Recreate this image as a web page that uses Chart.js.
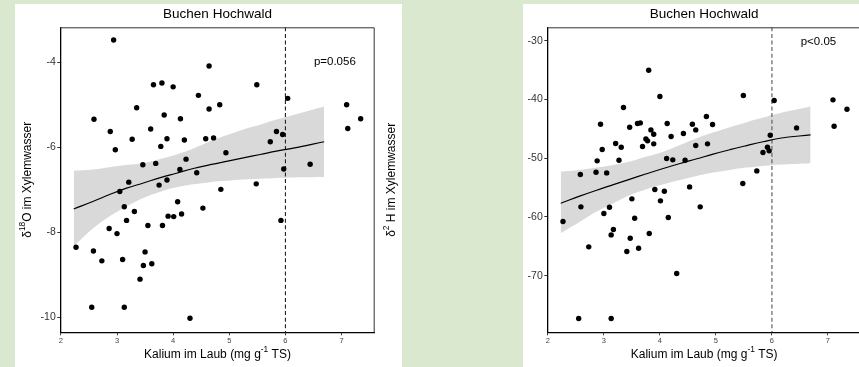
<!DOCTYPE html>
<html>
<head>
<meta charset="utf-8">
<script src="https://cdn.jsdelivr.net/npm/chart.js@4.4.1/dist/chart.umd.min.js"></script>
<style>
  html, body { margin: 0; padding: 0; width: 859px; height: 367px; overflow: hidden; background: #dae8cf; }
  .panel { position: absolute; background: #ffffff; }
  canvas { position: absolute; top: 0; }
</style>
</head>
<body>
<div class="panel" style="left:15px;top:4px;width:387px;height:363px;"></div>
<div class="panel" style="left:523px;top:4px;width:336px;height:363px;"></div>
<canvas id="c18" width="430" height="367" style="left:0;width:430px;height:367px;"></canvas>
<canvas id="c2" width="490" height="367" style="left:380px;width:490px;height:367px;"></canvas>
<script>
// Potassium in beech leaves (mg g-1 dry matter) and xylem water isotopes
const kalium = [2.27,2.55,2.58,2.59,2.73,2.86,2.88,2.94,2.97,3.00,3.05,3.10,3.13,3.13,3.17,3.21,3.27,3.31,3.35,3.41,3.46,3.47,3.50,3.55,3.60,3.62,3.65,3.69,3.75,3.78,3.80,3.81,3.84,3.89,3.89,3.91,4.00,4.01,4.08,4.12,4.13,4.15,4.20,4.23,4.30,4.42,4.45,4.53,4.58,4.64,4.64,4.72,4.83,4.85,4.94,5.48,5.49,5.73,5.84,5.92,5.95,5.97,6.04,6.44,7.09,7.11,7.34];
const d18O = [-8.35,-9.76,-8.44,-5.34,-8.67,-7.91,-5.63,-3.48,-6.06,-8.03,-7.04,-8.64,-7.40,-9.76,-7.72,-6.82,-5.81,-7.51,-5.07,-9.10,-6.41,-8.78,-8.46,-7.84,-5.57,-8.74,-4.53,-6.38,-6.89,-5.98,-4.49,-7.84,-5.24,-6.77,-5.80,-7.62,-4.58,-7.63,-7.28,-6.52,-5.33,-7.57,-5.83,-6.28,-10.02,-6.60,-4.78,-7.43,-5.80,-5.10,-4.09,-5.78,-5.00,-6.99,-6.13,-6.86,-4.53,-5.87,-5.63,-7.72,-5.70,-6.51,-4.85,-6.40,-5.00,-5.56,-5.33];
const d2H = [-60.78,-77.29,-52.78,-58.28,-65.09,-52.38,-50.45,-44.21,-48.52,-59.42,-52.50,-58.34,-63.05,-77.29,-62.14,-47.50,-50.34,-48.13,-41.38,-65.89,-44.72,-63.62,-56.92,-60.21,-44.10,-65.32,-43.99,-48.01,-46.71,-47.05,-35.02,-62.82,-45.18,-45.91,-47.56,-55.33,-39.50,-57.26,-55.62,-50.06,-44.10,-60.10,-46.31,-50.28,-69.63,-45.80,-50.34,-54.88,-44.21,-47.84,-45.18,-58.28,-42.91,-47.56,-44.27,-54.31,-39.33,-52.16,-49.04,-48.13,-48.75,-46.09,-40.18,-44.84,-40.07,-44.55,-41.66];

// Fitted trend with its confidence band
const fitK  = [2.23,2.58,2.87,3.17,3.47,3.76,4.06,4.36,4.66,4.95,5.25,5.55,5.84,6.14,6.69];
const fit18 = [-7.45,-7.27,-7.11,-6.96,-6.84,-6.72,-6.61,-6.50,-6.41,-6.33,-6.25,-6.17,-6.09,-6.02,-5.87];
const up18  = [-6.55,-6.52,-6.47,-6.42,-6.37,-6.28,-6.17,-6.03,-5.86,-5.72,-5.58,-5.47,-5.35,-5.24,-5.04];
const lo18  = [-8.33,-7.90,-7.62,-7.39,-7.19,-7.05,-6.94,-6.87,-6.82,-6.79,-6.76,-6.74,-6.72,-6.71,-6.70];
const fit2  = [-57.66,-56.42,-55.45,-54.50,-53.55,-52.65,-51.75,-50.90,-50.10,-49.30,-48.55,-47.85,-47.20,-46.60,-46.03];
const up2   = [-52.28,-51.99,-51.60,-51.14,-50.57,-49.73,-48.88,-47.74,-46.60,-45.64,-44.72,-43.87,-43.09,-42.34,-41.22];
const lo2   = [-62.77,-60.79,-59.09,-57.66,-56.25,-55.28,-54.43,-53.69,-53.01,-52.45,-51.99,-51.60,-51.31,-51.09,-50.85];

// Axis ticks
const kTicks = [2,3,4,5,6,7];
const o18Ticks = [-4,-6,-8,-10];
const h2Ticks = [-30,-40,-50,-60,-70];

const threshold = 6;
const titleText = 'Buchen Hochwald';
const xTitle = [{t:'Kalium im Laub (mg g'},{t:'-1',sup:true},{t:' TS)'}];

const FONT = '"Liberation Sans", Arial, sans-serif';

function drawRich(ctx, segs, x, y, size, rot) {
  ctx.save();
  ctx.translate(x, y);
  if (rot) ctx.rotate(rot);
  const base = size + 'px ' + FONT;
  const small = (size * 0.7).toFixed(1) + 'px ' + FONT;
  let total = 0;
  const w = segs.map(s => { ctx.font = s.sup ? small : base; const m = ctx.measureText(s.t).width; total += m; return m; });
  let cx = -total / 2;
  ctx.textBaseline = 'middle';
  ctx.textAlign = 'left';
  ctx.fillStyle = '#000';
  segs.forEach((s, i) => {
    ctx.font = s.sup ? small : base;
    ctx.fillText(s.t, cx, s.sup ? -size * 0.42 : 0);
    cx += w[i];
  });
  ctx.restore();
}

function buildChart(id, cfg) {
  const pts = kalium.map((k, i) => ({x: k, y: cfg.y[i]}));
  const line = arr => fitK.map((k, i) => ({x: k, y: arr[i]}));

  const decor = {
    id: 'decor',
    beforeDatasetDraw(chart, args) {
      if (args.index !== 1) return;
      const {ctx, chartArea: a, scales: {x}} = chart;
      const px = x.getPixelForValue(threshold);
      ctx.save();
      ctx.strokeStyle = cfg.dashColor;
      ctx.lineWidth = 1.1;
      ctx.setLineDash([4, 2.6]);
      ctx.beginPath();
      ctx.moveTo(px, a.top);
      ctx.lineTo(px, a.bottom);
      ctx.stroke();
      ctx.restore();
    },
    afterDraw(chart) {
      const {ctx, chartArea: a, scales: {x, y}} = chart;
      ctx.save();
      ctx.strokeStyle = '#333';
      ctx.lineWidth = 1;
      ctx.beginPath();
      ctx.moveTo(a.left, a.top + 0.5);
      ctx.lineTo(a.right - 0.5, a.top + 0.5);
      ctx.lineTo(a.right - 0.5, a.bottom);
      ctx.stroke();
      ctx.restore();
      const cx = (a.left + a.right) / 2;
      drawRich(ctx, [{t: titleText}], cx, 14, 13.5);
      drawRich(ctx, xTitle, cx, 355, 12);
      drawRich(ctx, cfg.yTitle, cfg.yTitleX, (a.top + a.bottom) / 2, 12, -Math.PI / 2);
      drawRich(ctx, [{t: cfg.pText}], x.getPixelForValue(cfg.pAt[0]), y.getPixelForValue(cfg.pAt[1]), 11.5);
    }
  };

  return new Chart(document.getElementById(id), {
    type: 'scatter',
    data: {
      datasets: [
        {data: pts, order: 0, pointRadius: 2.7, pointHoverRadius: 2.7, backgroundColor: '#000', borderWidth: 0, showLine: false},
        {data: line(cfg.fit), order: 1, showLine: true, borderColor: '#000', borderWidth: 1.2, pointRadius: 0, tension: 0.4, fill: false},
        {data: line(cfg.up), order: 2, showLine: true, borderWidth: 0, pointRadius: 0, tension: 0.4, fill: '+1', backgroundColor: '#d9d9d9'},
        {data: line(cfg.lo), order: 3, showLine: true, borderWidth: 0, pointRadius: 0, tension: 0.4, fill: false}
      ]
    },
    options: {
      responsive: false,
      animation: false,
      devicePixelRatio: 1,
      layout: {padding: cfg.padding},
      plugins: {legend: {display: false}, tooltip: {enabled: false}, title: {display: false}},
      scales: {
        x: {
          type: 'linear', min: 1.99, max: 7.59,
          afterBuildTicks: s => { s.ticks = kTicks.map(v => ({value: v})); },
          afterFit: s => { s.height = 34.7; },
          grid: {drawOnChartArea: false, drawTicks: true, tickLength: 3, color: '#333', lineWidth: 1},
          border: {display: true, color: '#000', width: 1.3},
          ticks: {font: {family: FONT, size: 7.5}, color: '#444', padding: 1.5, maxRotation: 0, callback: v => String(v)}
        },
        y: {
          type: 'linear', min: cfg.yMin, max: cfg.yMax,
          afterBuildTicks: s => { s.ticks = cfg.ticks.map(v => ({value: v})); },
          afterFit: s => { s.width = cfg.yAxisW; },
          grid: {drawOnChartArea: false, drawTicks: true, tickLength: 3, color: '#333', lineWidth: 1},
          border: {display: true, color: '#000', width: 1.3},
          ticks: {font: {family: FONT, size: 10.5}, color: '#333', padding: 1.5, callback: v => String(v)}
        }
      }
    },
    plugins: [decor]
  });
}

buildChart('c18', {
  y: d18O, fit: fit18, up: up18, lo: lo18,
  yMin: -10.35, yMax: -3.18, ticks: o18Ticks, yAxisW: 60.3,
  padding: {left: 0, top: 27.3, right: 55.3, bottom: 0},
  yTitle: [{t:'δ'},{t:'18',sup:true},{t:'O im Xylemwasser'}], yTitleX: 28,
  pText: 'p=0.056', pAt: [6.88, -4.0], dashColor: '#222'
});

buildChart('c2', {
  y: d2H, fit: fit2, up: up2, lo: lo2,
  yMin: -79.63, yMax: -27.72, ticks: h2Ticks, yAxisW: 167.3,
  padding: {left: 0, top: 27.3, right: 9, bottom: 0},
  yTitle: [{t:'δ'},{t:'2',sup:true},{t:' H im Xylemwasser'}], yTitleX: 12,
  pText: 'p<0.05', pAt: [6.83, -30.2], dashColor: '#555'
});
</script>
</body>
</html>
